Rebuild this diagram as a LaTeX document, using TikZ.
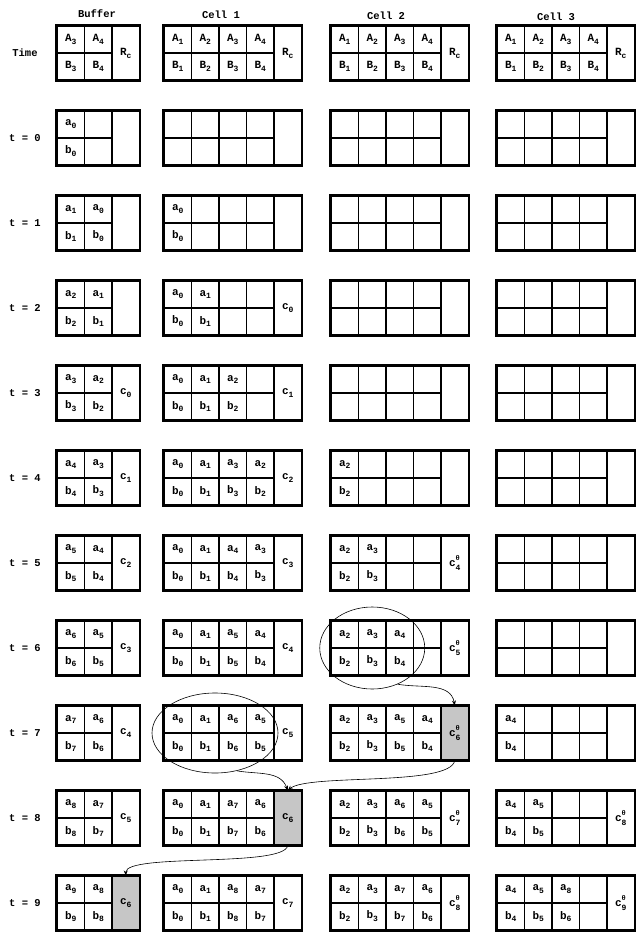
\documentclass[tikz,border=0pt]{standalone}
\usepackage{fontspec}
\setmonofont{Liberation Mono}
\usetikzlibrary{calc,arrows.meta,shapes.geometric}

\newcommand\val[2]{#1\raisebox{-0.5ex}{\footnotesize #2}}
\newcommand\cval[1]{c\raisebox{-0.6ex}{\footnotesize\rlap{\raisebox{2.3ex}{\scriptsize θ}}#1}}
\def\cw{27.5}
\def\hh{13.5}

\tikzset{
  reg/.style={draw, line width=1.1pt, minimum width=27.5pt, minimum height=27pt, inner sep=0pt,
    font=\ttfamily\bfseries\fontsize{11}{11}\selectfont},
  rcreg/.style={reg, minimum height=54pt},
  frame/.style={draw, line width=2pt},
  hot/.style={fill=gray!45},
  ring/.style={draw, ellipse, line width=0.6pt},
  pass/.style={-{Stealth[length=5pt,width=4pt]}, line width=0.6pt},
  lbl/.style={font=\ttfamily\bfseries\fontsize{10.5}{10.5}\selectfont},
}

% one register block: [R_c style] name, left x, centre y, data columns, top row, bottom row, R_c
\newcommand\regrow[8][]{%
  \foreach \lab [count=\i] in {#6}
    \node[reg] (#2-a\i) at ({#3+(\i-0.5)*\cw},{#4+\hh}) {\lab};
  \foreach \lab [count=\i] in {#7}
    \node[reg] (#2-b\i) at ({#3+(\i-0.5)*\cw},{#4-\hh}) {\lab};
  \node[rcreg,#1] (#2-rc) at ({#3+(#5+0.5)*\cw},{#4}) {#8};
  \draw[frame] (#2-a1.north west) rectangle (#2-rc.south east);
}

\begin{document}
\begin{tikzpicture}[x=1pt,y=1pt]
\useasboundingbox (0,0) rectangle (637,-943);

% headings
\node[lbl] (head-buf) at (97,-14) {Buffer};
\node[lbl] (head-c1) at (221,-15) {Cell 1};
\node[lbl] (head-c2) at (386,-16) {Cell 2};
\node[lbl] (head-c3) at (556,-17) {Cell 3};
\node[lbl] (time) at (25,-53) {Time};
\foreach \k in {0,...,9}
  \node[lbl] (t\k) at (25,{-138-85*\k}) {t = \k};

% register layout
\regrow{buf-hd}{57}{-53}{2}{\val{A}{3},\val{A}{4}}{\val{B}{3},\val{B}{4}}{\val{R}{c}}
\foreach \c/\x in {1/164,2/331,3/497}
  {\regrow{c\c-hd}{\x}{-53}{4}{\val{A}{1},\val{A}{2},\val{A}{3},\val{A}{4}}{\val{B}{1},\val{B}{2},\val{B}{3},\val{B}{4}}{\val{R}{c}}}

% empty cells
\foreach \k in {0,...,3}
  {\regrow{c2-t\k}{331}{-138-85*\k}{4}{{},{},{},{}}{{},{},{},{}}{}}
\foreach \k in {0,...,6}
  {\regrow{c3-t\k}{497}{-138-85*\k}{4}{{},{},{},{}}{{},{},{},{}}{}}
\regrow{c1-t0}{164}{-138}{4}{{},{},{},{}}{{},{},{},{}}{}

% t = 0 .. 9
\regrow{buf-t0}{57}{-138}{2}{\val{a}{0},{}}{\val{b}{0},{}}{}
\regrow{buf-t1}{57}{-223}{2}{\val{a}{1},\val{a}{0}}{\val{b}{1},\val{b}{0}}{}
\regrow{c1-t1}{164}{-223}{4}{\val{a}{0},{},{},{}}{\val{b}{0},{},{},{}}{}
\regrow{buf-t2}{57}{-308}{2}{\val{a}{2},\val{a}{1}}{\val{b}{2},\val{b}{1}}{}
\regrow{c1-t2}{164}{-308}{4}{\val{a}{0},\val{a}{1},{},{}}{\val{b}{0},\val{b}{1},{},{}}{\val{c}{0}}
\regrow{buf-t3}{57}{-393}{2}{\val{a}{3},\val{a}{2}}{\val{b}{3},\val{b}{2}}{\val{c}{0}}
\regrow{c1-t3}{164}{-393}{4}{\val{a}{0},\val{a}{1},\val{a}{2},{}}{\val{b}{0},\val{b}{1},\val{b}{2},{}}{\val{c}{1}}
\regrow{buf-t4}{57}{-478}{2}{\val{a}{4},\val{a}{3}}{\val{b}{4},\val{b}{3}}{\val{c}{1}}
\regrow{c1-t4}{164}{-478}{4}{\val{a}{0},\val{a}{1},\val{a}{3},\val{a}{2}}{\val{b}{0},\val{b}{1},\val{b}{3},\val{b}{2}}{\val{c}{2}}
\regrow{c2-t4}{331}{-478}{4}{\val{a}{2},{},{},{}}{\val{b}{2},{},{},{}}{}
\regrow{buf-t5}{57}{-563}{2}{\val{a}{5},\val{a}{4}}{\val{b}{5},\val{b}{4}}{\val{c}{2}}
\regrow{c1-t5}{164}{-563}{4}{\val{a}{0},\val{a}{1},\val{a}{4},\val{a}{3}}{\val{b}{0},\val{b}{1},\val{b}{4},\val{b}{3}}{\val{c}{3}}
\regrow{c2-t5}{331}{-563}{4}{\val{a}{2},\val{a}{3},{},{}}{\val{b}{2},\val{b}{3},{},{}}{\cval{4}}
\regrow{buf-t6}{57}{-648}{2}{\val{a}{6},\val{a}{5}}{\val{b}{6},\val{b}{5}}{\val{c}{3}}
\regrow{c1-t6}{164}{-648}{4}{\val{a}{0},\val{a}{1},\val{a}{5},\val{a}{4}}{\val{b}{0},\val{b}{1},\val{b}{5},\val{b}{4}}{\val{c}{4}}
\regrow{c2-t6}{331}{-648}{4}{\val{a}{2},\val{a}{3},\val{a}{4},{}}{\val{b}{2},\val{b}{3},\val{b}{4},{}}{\cval{5}}
\regrow{buf-t7}{57}{-733}{2}{\val{a}{7},\val{a}{6}}{\val{b}{7},\val{b}{6}}{\val{c}{4}}
\regrow{c1-t7}{164}{-733}{4}{\val{a}{0},\val{a}{1},\val{a}{6},\val{a}{5}}{\val{b}{0},\val{b}{1},\val{b}{6},\val{b}{5}}{\val{c}{5}}
\regrow[hot]{c2-t7}{331}{-733}{4}{\val{a}{2},\val{a}{3},\val{a}{5},\val{a}{4}}{\val{b}{2},\val{b}{3},\val{b}{5},\val{b}{4}}{\cval{6}}
\regrow{c3-t7}{497}{-733}{4}{\val{a}{4},{},{},{}}{\val{b}{4},{},{},{}}{}
\regrow{buf-t8}{57}{-818}{2}{\val{a}{8},\val{a}{7}}{\val{b}{8},\val{b}{7}}{\val{c}{5}}
\regrow[hot]{c1-t8}{164}{-818}{4}{\val{a}{0},\val{a}{1},\val{a}{7},\val{a}{6}}{\val{b}{0},\val{b}{1},\val{b}{7},\val{b}{6}}{\val{c}{6}}
\regrow{c2-t8}{331}{-818}{4}{\val{a}{2},\val{a}{3},\val{a}{6},\val{a}{5}}{\val{b}{2},\val{b}{3},\val{b}{6},\val{b}{5}}{\cval{7}}
\regrow{c3-t8}{497}{-818}{4}{\val{a}{4},\val{a}{5},{},{}}{\val{b}{4},\val{b}{5},{},{}}{\cval{8}}
\regrow[hot]{buf-t9}{57}{-903}{2}{\val{a}{9},\val{a}{8}}{\val{b}{9},\val{b}{8}}{\val{c}{6}}
\regrow{c1-t9}{164}{-903}{4}{\val{a}{0},\val{a}{1},\val{a}{8},\val{a}{7}}{\val{b}{0},\val{b}{1},\val{b}{8},\val{b}{7}}{\val{c}{7}}
\regrow{c2-t9}{331}{-903}{4}{\val{a}{2},\val{a}{3},\val{a}{7},\val{a}{6}}{\val{b}{2},\val{b}{3},\val{b}{7},\val{b}{6}}{\cval{8}}
\regrow{c3-t9}{497}{-903}{4}{\val{a}{4},\val{a}{5},\val{a}{8},{}}{\val{b}{4},\val{b}{5},\val{b}{6},{}}{\cval{9}}

% finished partial products
\node[ring, minimum width=105pt, minimum height=82pt] (ring-c2) at ($(c2-t6-a1.north west)!.5!(c2-t6-b3.south east)$) {};
\node[ring, minimum width=126pt, minimum height=80pt] (ring-c1) at ($(c1-t7-a1.north west)!.5!(c1-t7-b4.south east)+(-4,0)$) {};

\draw[pass] (ring-c2.-55) to[out=-10,in=100] (c2-t7-rc.north);
\draw[pass] (ring-c1.-60) to[out=-10,in=110] (c1-t8-rc.north);
\draw[pass] (c2-t7-rc.south) to[out=-100,in=40,looseness=0.4] (c1-t8-rc.north);
\draw[pass] (c1-t8-rc.south) to[out=-100,in=90,looseness=0.35] (buf-t9-rc.north);
\end{tikzpicture}
\end{document}
